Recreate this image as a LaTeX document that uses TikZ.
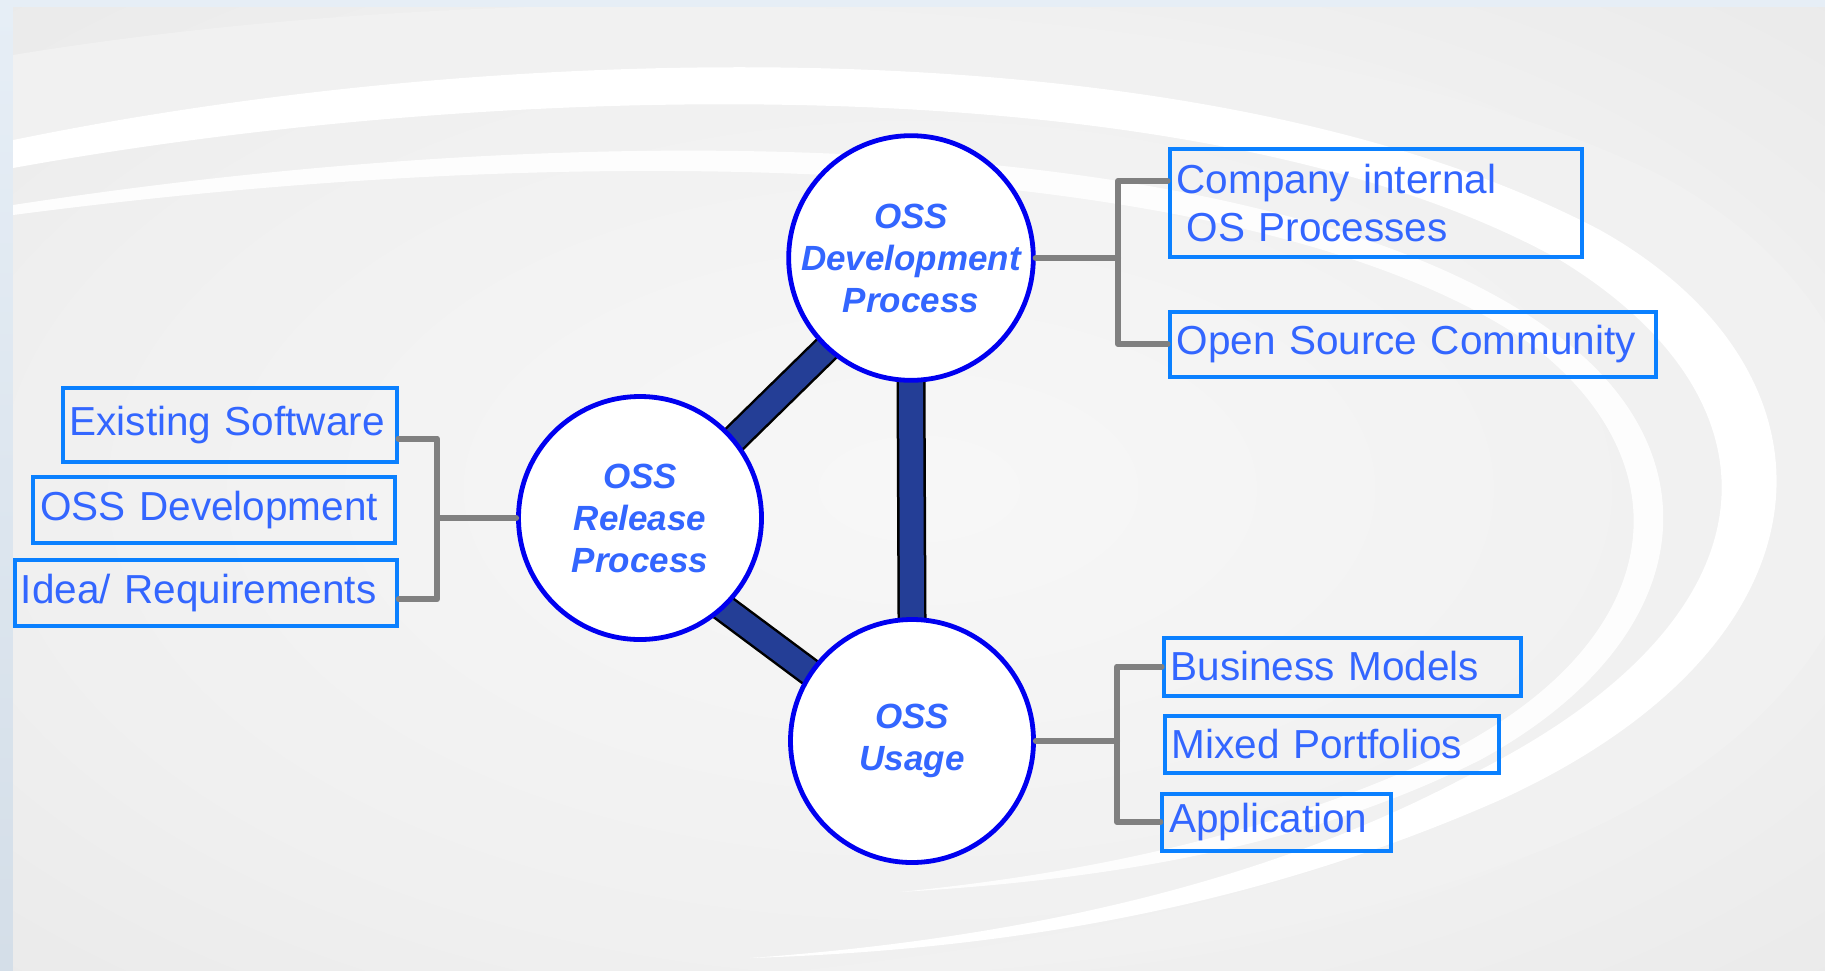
\documentclass[tikz,border=0pt]{standalone}
\usepackage{fontspec}
\setmainfont{Liberation Sans}
\definecolor{txtblue}{RGB}{51,102,255}
\definecolor{boxblue}{RGB}{10,128,255}
\definecolor{ringblue}{RGB}{0,0,240}
\definecolor{barblue}{RGB}{36,62,150}
\definecolor{brkgray}{RGB}{128,128,128}
\definecolor{bandgray}{RGB}{241,241,241}
\definecolor{frametop}{RGB}{230,238,246}
\definecolor{framebot}{RGB}{212,222,232}
\pgfdeclarelayer{bg}\pgfdeclarelayer{links}\pgfsetlayers{bg,links,main}
\pgfdeclareradialshading{bgshade}{\pgfpoint{0bp}{0bp}}{color(0bp)=(white!97!black); color(25bp)=(white!94!black); color(50bp)=(white!89!black)}
\begin{document}
\begin{tikzpicture}[x=1pt,y=-1pt,
 box/.style={draw=boxblue, line width=4pt, rectangle, anchor=north west, inner xsep=7pt, inner ysep=0pt, align=left, text=txtblue, font=\fontsize{40.5}{48}\selectfont},
 proc/.style={circle, draw=ringblue, line width=4.8pt, fill=white, minimum size=243pt, inner sep=0pt, align=center, text=txtblue, font=\fontsize{35}{42}\selectfont\bfseries\itshape},
 bar/.style={draw=black, line width=2.5pt, double=barblue, double distance=24pt, shorten <=-6pt, shorten >=-6pt},
 brk/.style={draw=brkgray, line width=6pt, line cap=round, line join=round}]
\useasboundingbox (0,0) rectangle (1825,970);

% background
\begin{pgfonlayer}{bg}
\shade[top color=frametop, bottom color=framebot] (0,0) rectangle (1825,970);
\shade[shading=bgshade] (13,7) rectangle (1825,970);
\begin{scope}
\clip (13,7) rectangle (1825,970);
% light outer band
\fill[bandgray]
  (13,55) .. controls (500,-25) and (1250,-25) .. (1660,175)
  .. controls (1960,335) and (1960,690) .. (1530,855)
  .. controls (1260,955) and (1000,980) .. (650,985)
  .. controls (1000,955) and (1250,910) .. (1500,800)
  .. controls (1850,640) and (1850,370) .. (1600,230)
  .. controls (1200,20) and (500,40) .. (13,140) -- cycle;
% main white band
\fill[white]
  (13,140) .. controls (500,40) and (1200,20) .. (1600,230)
  .. controls (1850,370) and (1850,640) .. (1500,800)
  .. controls (1250,910) and (1000,950) .. (750,958)
  .. controls (1000,940) and (1250,890) .. (1460,780)
  .. controls (1790,620) and (1790,400) .. (1560,260)
  .. controls (1200,60) and (500,80) .. (13,168) -- cycle;
% thin inner white band
\fill[white, opacity=0.9]
  (13,205) .. controls (700,100) and (1300,150) .. (1550,330)
  .. controls (1720,450) and (1700,640) .. (1480,760)
  .. controls (1300,850) and (1100,880) .. (900,892)
  .. controls (1100,872) and (1290,830) .. (1462,745)
  .. controls (1672,630) and (1682,460) .. (1532,345)
  .. controls (1290,175) and (700,125) .. (13,215) -- cycle;
\end{scope}
\end{pgfonlayer}

% boxes
\node[box, text width=398pt, minimum height=108pt] (ci) at (1167.5,146.7) {Company internal\\\hspace{10pt}OS Processes};
\node[box, text width=472.5pt, minimum height=65pt] (osc) at (1167.5,309.6) {Open Source Community};
\node[box, text width=320pt, minimum height=74pt] (es) at (60.5,386) {Existing Software};
\node[box, text width=348pt, minimum height=66pt] (od) at (31.4,475) {OSS Development};
\node[box, inner xsep=6pt, text width=370pt, minimum height=66.5pt] (ir) at (12.8,557.5) {Idea/ Requirements};
\node[box, text width=343.5pt, minimum height=58pt] (bm) at (1161.6,635.5) {Business Models};
\node[box, text width=320pt, minimum height=57pt] (mp) at (1162.7,713.5) {Mixed Portfolios};
\node[box, text width=215pt, minimum height=57pt] (app) at (1160.4,791.5) {Application};

% process circles
\node[proc] (dev) at (911,258) {OSS\\Development\\Process};
\node[proc] (rel) at (640,518) {OSS\\Release\\Process};
\node[proc] (use) at (912,741) {OSS\\Usage};

% thick links between circles
\begin{pgfonlayer}{links}
\draw[bar] (rel.40) -- (dev.-133);
\draw[bar] (rel.-47) -- (use.146);
\draw[bar] (dev.south) -- (use.north);
\end{pgfonlayer}

% brackets
\coordinate (lj) at (437,518);
\draw[brk] ([yshift=-13.5pt]es.east) -| (lj) |- ([yshift=-6.5pt]ir.east);
\draw[brk] (lj) -- (rel.west);

\coordinate (rj) at (1118,258);
\draw[brk] (dev.east) -- (rj);
\draw[brk] ([yshift=21.7pt]ci.west) -| (rj) |- (osc.west);

\coordinate (uj) at (1117,741);
\draw[brk] (use.east) -- (uj);
\draw[brk] (bm.west) -| (uj) |- (app.west);
\end{tikzpicture}
\end{document}
